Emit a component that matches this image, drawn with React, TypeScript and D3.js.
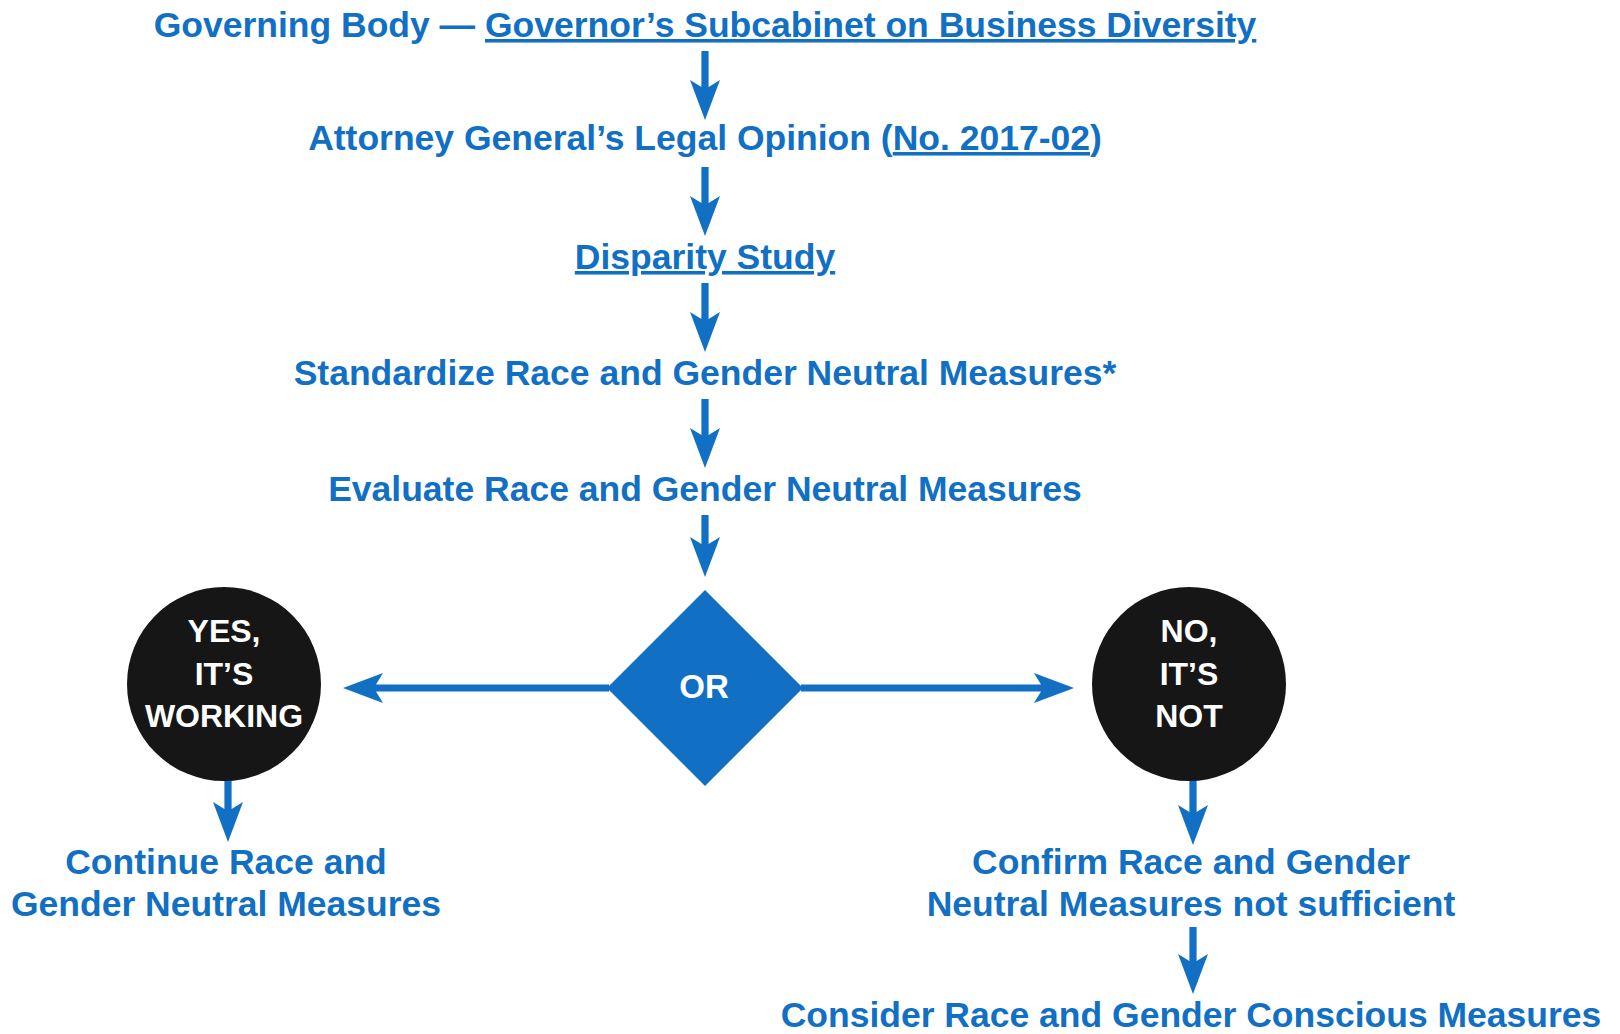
import React from 'react';
import * as d3 from 'd3';

/* Flow of the business-diversity review, top to bottom */

const W = 1620;
const H = 1034;
const BLUE = '#1170c4';
const INK = '#161616';
const FONT = '"Liberation Sans", Arial, Helvetica, sans-serif';

// main column labels, each split into runs (u = underlined)
const mainSteps = [
  [{ t: 'Governing Body — ' }, { t: 'Governor’s Subcabinet on Business Diversity', u: true }],
  [{ t: 'Attorney General’s Legal Opinion (' }, { t: 'No. 2017-02', u: true }, { t: ')' }],
  [{ t: 'Disparity Study', u: true }],
  [{ t: 'Standardize Race and Gender Neutral Measures*' }],
  [{ t: 'Evaluate Race and Gender Neutral Measures' }],
];
const decisionLabel = 'OR';
const branches = ['yes', 'main', 'no'];
const yesBubble = ['YES,', 'IT’S', 'WORKING'];
const noBubble = ['NO,', 'IT’S', 'NOT'];
const yesOutcome = ['Continue Race and', 'Gender Neutral Measures'];
const noOutcome = ['Confirm Race and Gender', 'Neutral Measures not sufficient'];
const finalStep = 'Consider Race and Gender Conscious Measures';

// arrow polygon from (x0,y0) to tip (x1,y1), barbed head
function arrowPath(x0: number, y0: number, x1: number, y1: number) {
  const dx = x1 - x0, dy = y1 - y0;
  const len = Math.hypot(dx, dy);
  const ux = dx / len, uy = dy / len, px = -uy, py = ux;
  const s = 3.6, hw = 15, hl = 40, notch = 7;
  const at = (a: number, b: number): [number, number] => [x0 + ux * a + px * b, y0 + uy * a + py * b];
  const pts = [at(0, -s), at(len - hl + notch, -s), at(len - hl, -hw), at(len, 0),
    at(len - hl, hw), at(len - hl + notch, s), at(0, s)];
  return d3.line()(pts) + 'Z';
}

export default function App() {
  const rowY = d3.scalePoint<number>().domain(d3.range(mainSteps.length)).range([37, 501]);
  const colX = d3.scaleOrdinal<string, number>().domain(branches).range([226, 705, 1191]);

  const cx = colX('main');
  const dy = 688, dr = 98; // decision diamond
  const by = 684, br = 97; // bubbles
  const lineGap = 42;
  const outY = 874;
  const finalY = 1027;

  const textStyle = { fontFamily: FONT, fontWeight: 700, fontSize: 35.5, fill: BLUE } as React.CSSProperties;
  const bubbleStyle = { fontFamily: FONT, fontWeight: 700, fontSize: 32, fill: '#fff' } as React.CSSProperties;

  const arrows: string[] = [];
  mainSteps.forEach((_, i) => {
    const y0 = rowY(i)! + 14;
    const y1 = i < mainSteps.length - 1 ? rowY(i + 1)! - 33 : dy - dr - 13;
    arrows.push(arrowPath(cx, y0, cx, y1));
  });
  arrows.push(arrowPath(cx - dr + 2, dy, colX('yes') + br + 20, dy));
  arrows.push(arrowPath(cx + dr - 2, dy, colX('no') - br - 20, dy));
  arrows.push(arrowPath(colX('yes') + 2, by + br - 4, colX('yes') + 2, outY - 32));
  arrows.push(arrowPath(colX('no') + 2, by + br - 4, colX('no') + 2, outY - 29));
  arrows.push(arrowPath(colX('no') + 2, outY + lineGap + 11, colX('no') + 2, finalY - 33));

  const bubble = (key: string, lines: string[]) => (
    <g key={key}>
      <circle cx={colX(key) - 2} cy={by} r={br} fill={INK} />
      {lines.map((l, i) => (
        <text key={i} x={colX(key) - 2} y={by - 42 + i * 42.5} textAnchor="middle" style={bubbleStyle}>{l}</text>
      ))}
    </g>
  );

  return (
    <div style={{ position: 'absolute', left: 0, top: 0 }}>
      <svg width={W} height={H} viewBox={`0 0 ${W} ${H}`} style={{ display: 'block', background: '#fff' }}>
        {mainSteps.map((runs, i) => (
          <text key={i} x={cx} y={rowY(i)! - (i === 1 ? 3 : 0)} textAnchor="middle" style={textStyle}>
            {runs.map((r, j) => (
              <tspan key={j} style={r.u ? { textDecoration: 'underline' } : undefined}>{r.t}</tspan>
            ))}
          </text>
        ))}

        {arrows.map((d, i) => <path key={i} d={d} fill={BLUE} />)}

        <path
          d={`M${cx},${dy - dr}L${cx + dr},${dy}L${cx},${dy + dr}L${cx - dr},${dy}Z`}
          fill={BLUE}
        />
        <text x={cx - 1} y={dy + 10} textAnchor="middle" style={{ ...bubbleStyle, fontSize: 33 }}>{decisionLabel}</text>

        {bubble('yes', yesBubble)}
        {bubble('no', noBubble)}

        {yesOutcome.map((l, i) => (
          <text key={'y' + i} x={colX('yes')} y={outY + i * lineGap} textAnchor="middle" style={textStyle}>{l}</text>
        ))}
        {noOutcome.map((l, i) => (
          <text key={'n' + i} x={colX('no')} y={outY + i * lineGap} textAnchor="middle" style={textStyle}>{l}</text>
        ))}
        <text x={colX('no')} y={finalY} textAnchor="middle" style={textStyle}>{finalStep}</text>
      </svg>
    </div>
  );
}
